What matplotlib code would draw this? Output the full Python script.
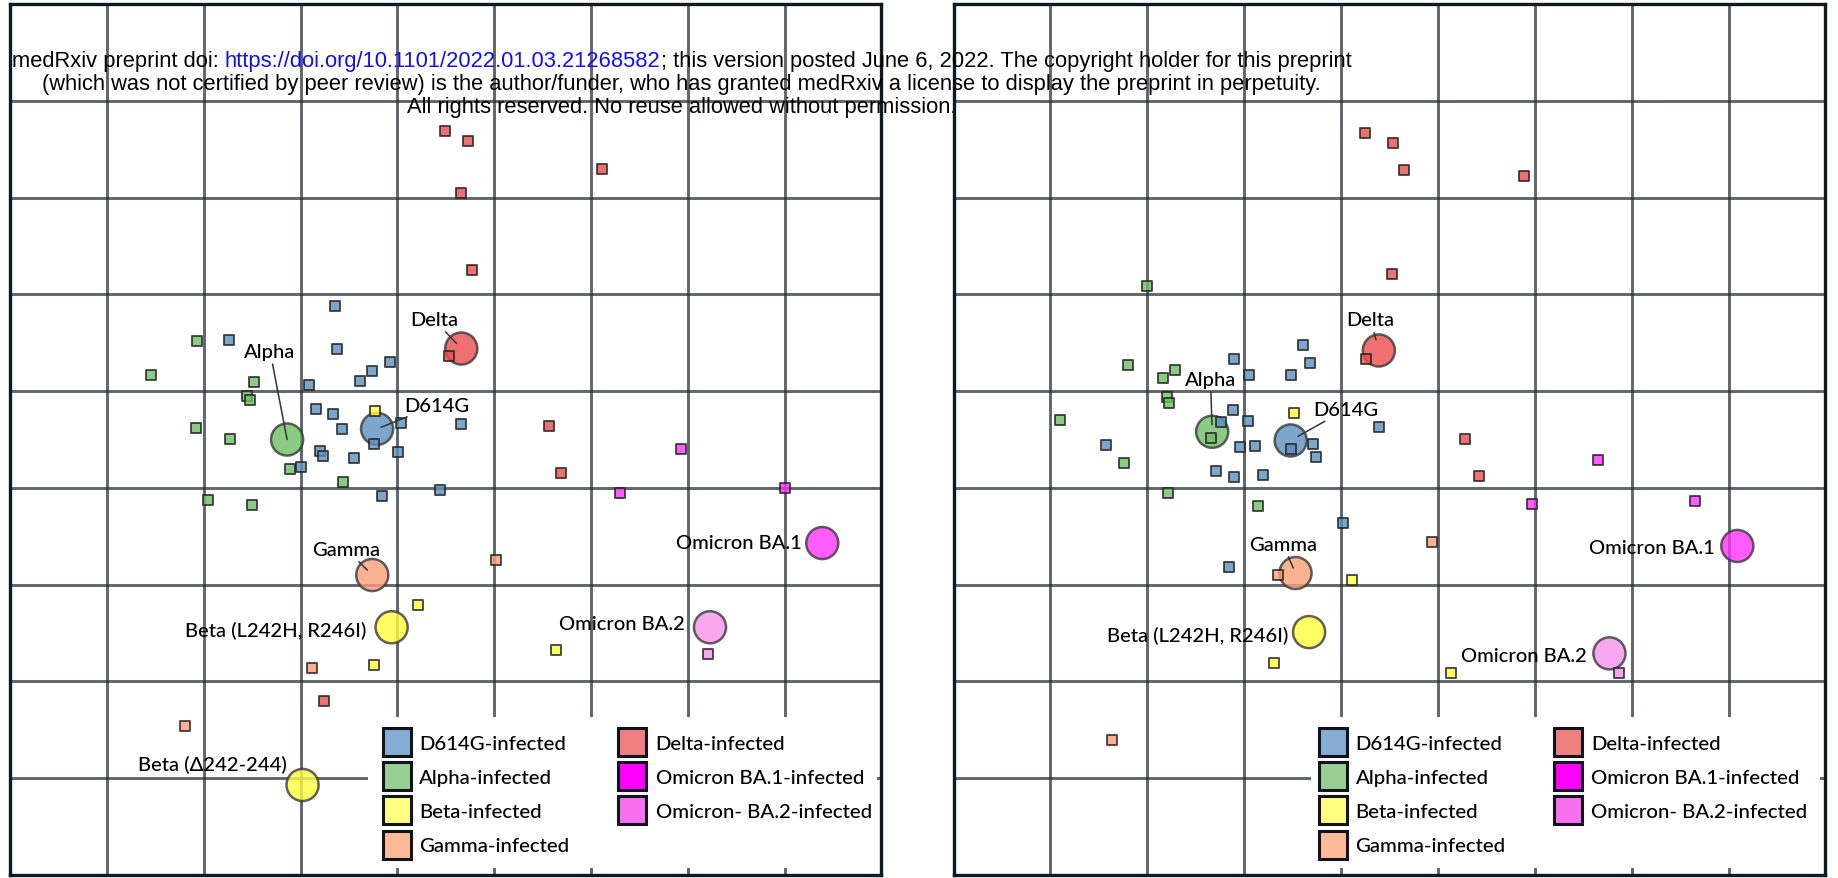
import matplotlib
matplotlib.use("Agg")
import matplotlib.pyplot as plt
from matplotlib.patches import Rectangle

W, H = 1838, 879
FONT = ["Lato", "DejaVu Sans"]
HEAD_FONT = ["Liberation Sans", "DejaVu Sans"]

# ---- left map (A): antigens (circles) ----
antigen_names_a = ["D614G", "Alpha", "Beta (L242H, R246I)", "Beta (Δ242-244)",
                   "Gamma", "Delta", "Omicron BA.1", "Omicron BA.2"]
antigen_group_a = ["D614G", "Alpha", "Beta", "Beta", "Gamma", "Delta", "BA.1", "BA.2"]
antigen_x_a = [3.79, 2.86, 3.94, 3.02, 3.74, 4.66, 8.39, 7.23]
antigen_y_a = [4.61, 4.50, 2.56, 0.93, 3.10, 5.44, 3.43, 2.56]

# ---- left map (A): sera (squares) ----
sera_d614g_a = [(3.35, 5.88), (3.38, 5.43), (3.92, 5.30), (3.74, 5.21), (3.61, 5.10),
                (3.09, 5.06), (3.16, 4.82), (3.33, 4.76), (3.43, 4.61), (4.04, 4.67),
                (4.66, 4.66), (3.76, 4.45), (4.01, 4.37), (3.20, 4.38), (3.23, 4.33),
                (3.55, 4.31), (3.00, 4.22), (3.84, 3.92), (4.44, 3.98), (2.26, 5.53)]
sera_alpha_a = [(1.93, 5.52), (1.45, 5.17), (2.52, 5.09), (2.45, 4.95), (2.48, 4.91),
                (1.92, 4.62), (2.27, 4.51), (2.89, 4.20), (3.44, 4.06), (2.04, 3.87),
                (2.50, 3.82)]
sera_beta_a = [(3.77, 4.79), (4.21, 2.79), (3.76, 2.17), (5.64, 2.33)]
sera_gamma_a = [(5.02, 3.26), (3.12, 2.14), (1.80, 1.54)]
sera_delta_a = [(4.49, 7.69), (4.73, 7.58), (6.11, 7.29), (4.66, 7.05), (4.77, 6.25),
                (4.53, 5.36), (5.57, 4.64), (5.69, 4.15), (3.24, 1.80)]
sera_ba1_a = [(6.93, 4.40), (6.30, 3.95), (8.00, 4.00)]
sera_ba2_a = [(7.21, 2.28)]

# ---- right map (B): antigens (circles) ----
antigen_names_b = ["D614G", "Alpha", "Beta (L242H, R246I)", "Gamma", "Delta",
                   "Omicron BA.1", "Omicron BA.2"]
antigen_group_b = ["D614G", "Alpha", "Beta", "Gamma", "Delta", "BA.1", "BA.2"]
antigen_x_b = [3.48, 2.67, 3.67, 3.53, 4.39, 8.09, 6.77]
antigen_y_b = [4.49, 4.58, 2.51, 3.12, 5.42, 3.40, 2.29]

# ---- right map (B): sera (squares) ----
sera_d614g_b = [(2.90, 5.33), (3.61, 5.48), (3.68, 5.29), (3.05, 5.17), (3.48, 5.17),
                (2.88, 4.80), (3.04, 4.69), (2.76, 4.68), (1.57, 4.44), (2.96, 4.42),
                (3.11, 4.43), (3.48, 4.40), (3.71, 4.45), (3.74, 4.32), (2.71, 4.17),
                (2.89, 4.11), (3.19, 4.13), (4.02, 3.64), (2.84, 3.18), (4.39, 4.63)]
sera_alpha_b = [(2.00, 6.09), (1.80, 5.27), (2.29, 5.22), (2.16, 5.14), (2.20, 4.94),
                (2.22, 4.88), (1.10, 4.70), (2.66, 4.52), (1.76, 4.26), (2.21, 3.95),
                (3.14, 3.81)]
sera_beta_b = [(3.51, 4.77), (4.11, 3.05), (3.31, 2.19), (5.13, 2.09)]
sera_gamma_b = [(4.94, 3.44), (3.35, 3.10), (1.64, 1.39)]
sera_delta_b = [(4.25, 7.67), (4.54, 7.56), (4.65, 7.28), (5.89, 7.22), (4.53, 6.21),
                (4.26, 5.33), (5.28, 4.51), (5.42, 4.12)]
sera_ba1_b = [(6.65, 4.29), (5.97, 3.83), (7.65, 3.86)]
sera_ba2_b = [(6.87, 2.09)]

legend_labels = ["D614G-infected", "Alpha-infected", "Beta-infected", "Gamma-infected",
                 "Delta-infected", "Omicron BA.1-infected", "Omicron- BA.2-infected"]

# styling
variant_colors = {"D614G": "#5c90c1", "Alpha": "#6fbe65", "Beta": "#ffff3d",
                  "Gamma": "#f99f76", "Delta": "#ea4c4c", "BA.1": "#ff33ff",
                  "BA.2": "#f692ec"}
legend_colors = ["#86aed2", "#98cf93", "#ffff80", "#fdbb98",
                 "#f07f7f", "#ff00ff", "#f870f0"]

# label offsets from circle, pixels: dx, dy (to baseline), ha, leader shrink (None = no line)
label_layout_a = [(59.5, 18.3, "center", 3), (-17, 82.6, "center", 0),
                  (-25, -8.4, "right", None), (-16, 15, "right", None),
                  (-25.8, 20, "center", 5), (-27.4, 23.5, "center", 5),
                  (-20.3, -5, "right", None), (-24.7, -1.3, "right", None)]
label_layout_b = [(55.5, 25.7, "center", 6), (-1.7, 47, "center", 5),
                  (-21, -8.7, "right", None), (-12.7, 23.3, "center", 4),
                  (-8.2, 25, "center", 8), (-22.7, -7, "right", None),
                  (-22.8, -7.5, "right", None)]

fig = plt.figure(figsize=(W / 100, H / 100), dpi=100, facecolor="white")
renderer = fig.canvas.get_renderer()


def fit_fontsize(text, family, target_px, weight="normal", ref=20):
    t = fig.text(0, 0, text, fontsize=ref, family=family, fontweight=weight)
    w = t.get_window_extent(renderer).width
    t.remove()
    return ref * target_px / w


label_fs = fit_fontsize("Omicron BA.1", FONT, 125.7, "medium")
legend_fs = fit_fontsize("D614G-infected", FONT, 147, "medium")


def draw_map(ax, ax_w, names, groups, xs, ys, sera, layout, leg_x, leg_tx):
    ax.set_xlim(0, 9)
    ax.set_ylim(0, 9)
    ax.set_xticks(range(1, 9))
    ax.set_yticks(range(1, 9))
    ax.tick_params(length=0, labelbottom=False, labelleft=False)
    ax.set_axisbelow(True)
    ax.grid(True, color="#2a333b", alpha=0.75, lw=2.1)
    for sp in ax.spines.values():
        sp.set_linewidth(2.4)
        sp.set_color("#0f1a22")
    ax_h = 871.0

    # antigens
    ax.scatter(xs, ys, s=23.1 ** 2, c=[variant_colors[g] for g in groups], alpha=0.8,
               edgecolors="#3a3a3a", linewidths=1.8, zorder=3)
    # sera
    for key, pts in sera:
        ax.scatter([p[0] for p in pts], [p[1] for p in pts], marker="s", s=6.6 ** 2,
                   c=variant_colors[key], alpha=0.8, edgecolors="#222222",
                   linewidths=1.4, zorder=4)
    # labels
    for name, x, y, (dx, dy, ha, shrink) in zip(names, xs, ys, layout):
        kw = {}
        if shrink is not None:
            kw["arrowprops"] = dict(arrowstyle="-", color="#333333", lw=1.1,
                                    shrinkA=1, shrinkB=shrink)
        ax.annotate(name, (x, y), xytext=(dx, dy), textcoords="offset pixels",
                    ha=ha, va="baseline", fontsize=label_fs, family=FONT,
                    fontweight="medium", zorder=5, **kw)

    # legend: white box over the grid, then two columns of swatches
    ax.add_patch(Rectangle((357.5 / ax_w, 7.5 / ax_h), 509 / ax_w, 150.5 / ax_h,
                           transform=ax.transAxes, facecolor="white", edgecolor="none",
                           zorder=1))
    for i, (lab, col) in enumerate(zip(legend_labels, legend_colors)):
        c, r = divmod(i, 4)
        top = 146.8 - 34.1 * r
        ax.add_patch(Rectangle((leg_x[c] / ax_w, (top - 28) / ax_h), 28 / ax_w, 28 / ax_h,
                               transform=ax.transAxes, facecolor=col, edgecolor="#12121f",
                               lw=2.2, zorder=6))
        ax.text(leg_tx[c] / ax_w, (top - 14) / ax_h, lab, transform=ax.transAxes,
                ha="left", va="center_baseline", fontsize=legend_fs, family=FONT,
                fontweight="medium", zorder=6)


ax_a = fig.add_axes([10.3 / W, 3 / H, 871 / W, 871 / H])
ax_b = fig.add_axes([953.5 / W, 3 / H, 872 / W, 871 / H])

sera_a = [("D614G", sera_d614g_a), ("Alpha", sera_alpha_a), ("Beta", sera_beta_a),
          ("Gamma", sera_gamma_a), ("Delta", sera_delta_a), ("BA.1", sera_ba1_a),
          ("BA.2", sera_ba2_a)]
sera_b = [("D614G", sera_d614g_b), ("Alpha", sera_alpha_b), ("Beta", sera_beta_b),
          ("Gamma", sera_gamma_b), ("Delta", sera_delta_b), ("BA.1", sera_ba1_b),
          ("BA.2", sera_ba2_b)]

draw_map(ax_a, 871.0, antigen_names_a, antigen_group_a, antigen_x_a, antigen_y_a,
         sera_a, label_layout_a, (372.2, 607.9), (408.5, 645.2))
draw_map(ax_b, 872.0, antigen_names_b, antigen_group_b, antigen_x_b, antigen_y_b,
         sera_b, label_layout_b, (365.7, 601.0), (402.0, 637.3))

# ---- medRxiv header stamped over the figure ----
head1 = [("medRxiv preprint doi: ", "black"),
         ("https://doi.org/10.1101/2022.01.03.21268582", "#1010ee"),
         ("; this version posted June 6, 2022. The copyright holder for this preprint", "black")]
head2 = "(which was not certified by peer review) is the author/funder, who has granted medRxiv a license to display the preprint in perpetuity."
head3 = "All rights reserved. No reuse allowed without permission."

full1 = "".join(p[0] for p in head1)
head_fs = fit_fontsize(full1, HEAD_FONT, 1338)


def text_width(s):
    t = fig.text(0, 0, s, fontsize=head_fs, family=HEAD_FONT)
    w = t.get_window_extent(renderer).width
    t.remove()
    return w


cx = 681.7
x0 = cx - text_width(full1) / 2
acc = ""
for part, col in head1:
    acc += part
    start = x0 + text_width(acc) - text_width(part)
    fig.text(start / W, 1 - 66.7 / H, part, color=col, fontsize=head_fs,
             family=HEAD_FONT, va="baseline", ha="left", zorder=10)
fig.text(cx / W, 1 - 90.0 / H, head2, fontsize=head_fs, family=HEAD_FONT,
         va="baseline", ha="center", zorder=10)
fig.text(cx / W, 1 - 113.3 / H, head3, fontsize=head_fs, family=HEAD_FONT,
         va="baseline", ha="center", zorder=10)

fig.savefig("out.png", dpi=100, facecolor="white")
